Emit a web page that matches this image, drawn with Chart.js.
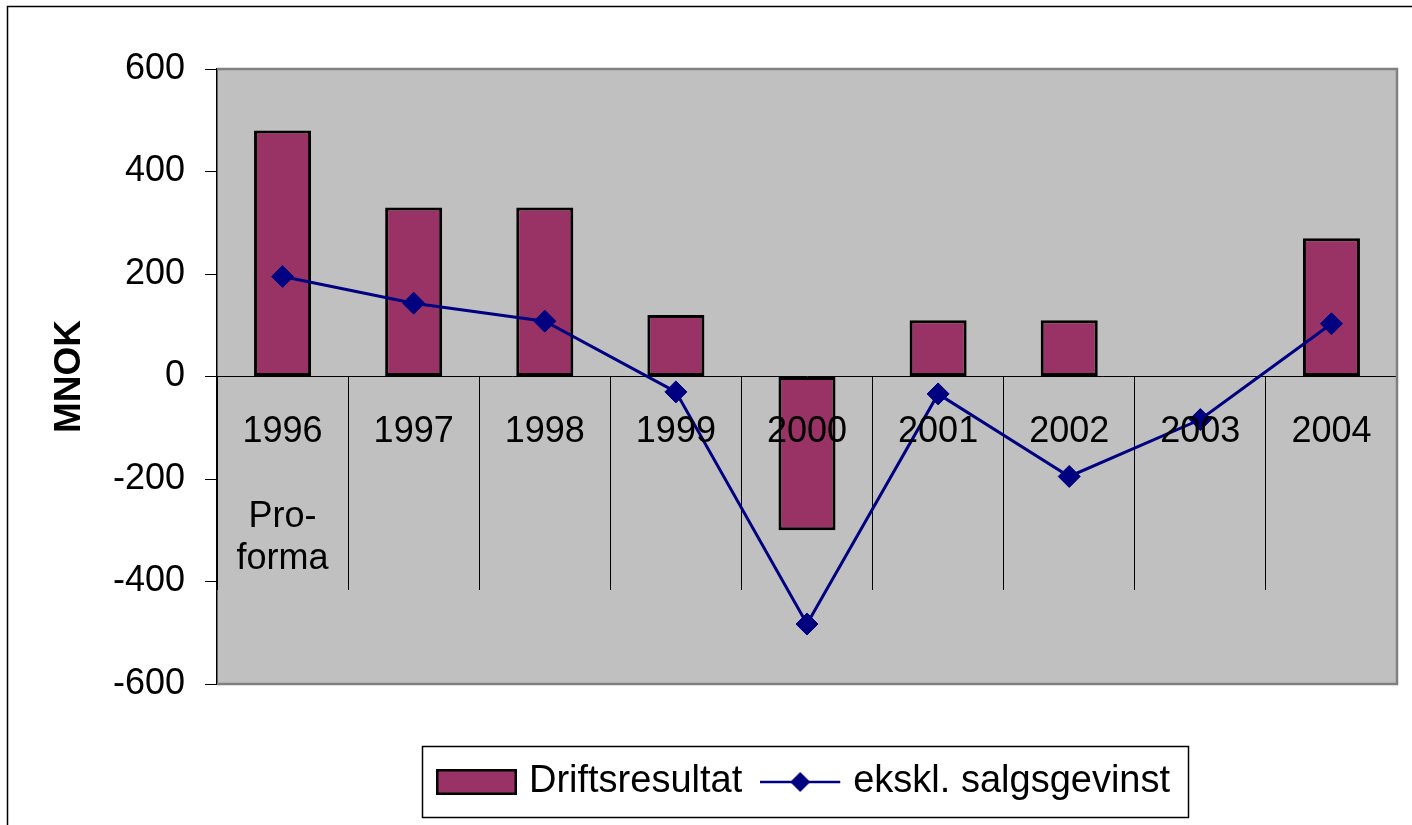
<!DOCTYPE html>
<html>
<head>
<meta charset="utf-8">
<script src="https://cdn.jsdelivr.net/npm/chart.js@4.4.1/dist/chart.umd.min.js"></script>
<style>
html,body{margin:0;padding:0;background:#fff;overflow:hidden}
canvas{display:block}
</style>
</head>
<body>
<canvas id="c" width="1412" height="825"></canvas>
<script>
// ---- data ----
const categories = ['1996', '1997', '1998', '1999', '2000', '2001', '2002', '2003', '2004'];
const categoryLabels = [['1996', '', 'Pro-', 'forma'], ['1997'], ['1998'], ['1999'], ['2000'], ['2001'], ['2002'], ['2003'], ['2004']];
const driftsresultat = [480, 330, 330, 120, -300, 110, 110, null, 270];
const eksklSalgsgevinst = [195, 143, 108, -30, -483, -34, -195, -84, 103];
const seriesNames = ['Driftsresultat', 'ekskl. salgsgevinst'];
const yTicks = [-600, -400, -200, 0, 200, 400, 600];
const yTitle = 'MNOK';

// ---- styles ----
const FONT = "'Liberation Sans', Arial, Helvetica, sans-serif";
const BAR_COLOR = '#993366';
const LINE_COLOR = '#000080';
const PLOT_BG = '#C0C0C0';

function barSwatch() {
  const c = document.createElement('canvas');
  c.width = 82; c.height = 26;
  const g = c.getContext('2d');
  g.fillStyle = BAR_COLOR;
  g.fillRect(1, 1, 79, 24);
  g.strokeStyle = '#000';
  g.lineWidth = 2.5;
  g.strokeRect(1.25, 1.25, 78.5, 23.5);
  return c;
}
function lineSwatch() {
  const c = document.createElement('canvas');
  c.width = 82; c.height = 22;
  const g = c.getContext('2d');
  g.strokeStyle = LINE_COLOR;
  g.lineWidth = 2.5;
  g.beginPath(); g.moveTo(0, 11); g.lineTo(80, 11); g.stroke();
  g.fillStyle = LINE_COLOR;
  g.beginPath(); g.moveTo(30, 11); g.lineTo(40, 1); g.lineTo(50, 11); g.lineTo(40, 21); g.closePath(); g.fill();
  return c;
}
const swatches = [barSwatch(), lineSwatch()];

const framePlugin = {
  id: 'frames',
  beforeDraw(chart) {
    const {ctx, chartArea: a} = chart;
    ctx.save();
    ctx.fillStyle = PLOT_BG;
    ctx.fillRect(a.left, a.top, a.right - a.left, a.bottom - a.top);
    ctx.restore();
  },
  beforeDatasetsDraw(chart) {
    const {ctx, chartArea: a} = chart;
    ctx.save();
    ctx.strokeStyle = '#808080';
    ctx.lineWidth = 2.5;
    ctx.beginPath();
    ctx.moveTo(a.left, a.top);
    ctx.lineTo(a.right, a.top);
    ctx.lineTo(a.right, a.bottom);
    ctx.lineTo(a.left, a.bottom);
    ctx.stroke();
    ctx.restore();
  },
  afterDraw(chart) {
    const ctx = chart.ctx;
    ctx.save();
    ctx.strokeStyle = '#000';
    ctx.lineWidth = 1.5;
    ctx.strokeRect(7.5, 6.5, 3000, 3000);
    const hb = chart.legend && chart.legend.legendHitBoxes;
    if (hb && hb.length) {
      const first = hb[0], last = hb[hb.length - 1];
      const cy = first.top + first.height / 2;
      const l = first.left - 22, r = last.left + last.width + 18;
      ctx.lineWidth = 1.5;
      ctx.strokeRect(Math.round(l) + 0.5, Math.round(cy - 36) + 0.5, Math.round(r - l), 71);
    }
    ctx.restore();
  }
};

new Chart(document.getElementById('c'), {
  type: 'bar',
  data: {
    labels: categories,
    datasets: [
      {
        type: 'bar',
        label: seriesNames[0],
        data: driftsresultat,
        backgroundColor: BAR_COLOR,
        borderColor: '#000',
        borderWidth: 3,
        borderSkipped: false,
        barPercentage: 0.435,
        categoryPercentage: 1,
        order: 1
      },
      {
        type: 'line',
        label: seriesNames[1],
        data: eksklSalgsgevinst,
        borderColor: LINE_COLOR,
        backgroundColor: LINE_COLOR,
        borderWidth: 3,
        pointStyle: 'rectRot',
        pointRadius: 11,
        pointBorderWidth: 1,
        pointBackgroundColor: LINE_COLOR,
        pointBorderColor: LINE_COLOR,
        tension: 0,
        fill: false,
        order: 0
      }
    ]
  },
  options: {
    responsive: false,
    devicePixelRatio: 1,
    animation: false,
    events: [],
    layout: { padding: { left: 20, right: 15, top: 69, bottom: 14 } },
    scales: {
      x: {
        position: { y: 0 },
        offset: true,
        grid: {
          display: true,
          drawOnChartArea: false,
          drawTicks: true,
          offset: true,
          tickLength: 213,
          color: '#000',
          lineWidth: 1
        },
        border: { display: true, color: '#000', width: 1 },
        ticks: {
          font: { family: FONT, size: 36, lineHeight: 1.17 },
          color: '#000',
          padding: -178,
          maxRotation: 0,
          minRotation: 0,
          autoSkip: false,
          z: 1,
          callback: (v, i) => categoryLabels[i]
        }
      },
      y: {
        min: -600,
        max: 600,
        afterBuildTicks: s => { s.ticks = yTicks.map(v => ({ value: v })); },
        afterFit: s => { s.width = 197; },
        grid: { drawOnChartArea: false, tickLength: 12, color: '#000', lineWidth: 1 },
        border: { display: true, color: '#000', width: 1.5 },
        ticks: { font: { family: FONT, size: 36 }, color: '#000', padding: 20 },
        title: {
          display: true,
          text: yTitle,
          color: '#000',
          font: { family: FONT, size: 37, weight: 'bold' },
          padding: { top: 27.8, bottom: 0 }
        }
      }
    },
    plugins: {
      tooltip: { enabled: false },
      title: { display: false },
      legend: {
        display: true,
        position: 'bottom',
        fullSize: false,
        title: { display: true, text: ' ', font: { size: 10 }, padding: { top: 20.5, bottom: 20.5 } },
        labels: {
          usePointStyle: true,
          pointStyleWidth: 66,
          boxHeight: 30,
          padding: 26,
          color: '#000',
          font: { family: FONT, size: 38 },
          sort: (a, b) => a.datasetIndex - b.datasetIndex,
          generateLabels(chart) {
            const items = Chart.defaults.plugins.legend.labels.generateLabels(chart);
            items.forEach(it => { it.pointStyle = swatches[it.datasetIndex]; it.rotation = 0; });
            return items;
          }
        }
      }
    }
  },
  plugins: [framePlugin]
});
</script>
</body>
</html>
